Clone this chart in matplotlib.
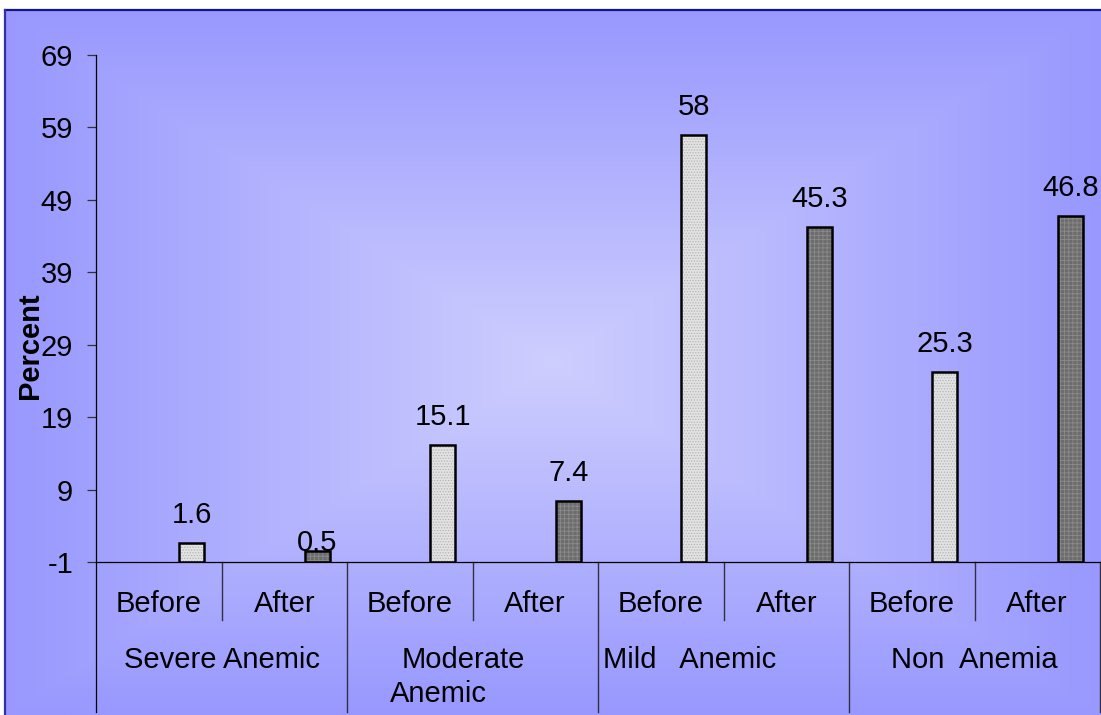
import numpy as np
import matplotlib.pyplot as plt
from matplotlib.lines import Line2D
from matplotlib.transforms import blended_transform_factory

plt.rcParams['font.family'] = ['Liberation Sans', 'DejaVu Sans']
plt.rcParams['hatch.linewidth'] = 0.6

# anemia status of the sample, before and after the intervention (%)
groups = ['Severe Anemic', 'Moderate Anemic', 'Mild Anemic', 'Non Anemia']
phases = ['Before', 'After']
before_vals = [1.6, 15.1, 58, 25.3]
after_vals = [0.5, 7.4, 45.3, 46.8]
y_ticks = [-1, 9, 19, 29, 39, 49, 59, 69]

FS = 21
W, H = 1101, 715
fig = plt.figure(figsize=(W / 100, H / 100), dpi=100, facecolor='white')

# rectangular "from centre" gradient behind everything
bg = fig.add_axes([5 / W, 0, 1 - 5 / W, 1 - 10 / H], zorder=-5)
ny, nx = 400, 600
gx = np.abs(np.linspace(-1, 1, nx))[None, :]
gy = np.abs(np.linspace(-1, 1, ny))[:, None]
t = np.maximum(gx, gy)
centre = np.array([206, 206, 255]) / 255
edge = np.array([152, 152, 254]) / 255
img = centre[None, None, :] + (edge - centre)[None, None, :] * t[:, :, None]
bg.imshow(img, aspect='auto', interpolation='bilinear')
bg.axis('off')

# frame line along the top and left
fig.add_artist(Line2D([5 / W, 1], [1 - 10 / H, 1 - 10 / H], color='#14148c', lw=1.6))
fig.add_artist(Line2D([5 / W, 5 / W], [0, 1 - 10 / H], color='#3030a8', lw=1.6))

ax = fig.add_axes([96 / W, 1 - 562 / H, 1004 / W, (562 - 55) / H])
ax.patch.set_alpha(0)

vals = []
for b, a in zip(before_vals, after_vals):
    vals += [b, a]
slots = np.arange(len(vals))
xpos = slots + 0.763
base = y_ticks[0]
# the tiny 0.5 bar gets its label sitting right on top of it
label_gap = [14.4, 0, 14.4, 14.4, 14.4, 14.4, 14.4, 14.4]

for i, (x, v) in enumerate(zip(xpos, vals)):
    if i % 2 == 0:
        face, hcol, hatch = '#e2e2e2', '#b4b4b4', '......'
    else:
        face, hcol, hatch = '#6c6c6c', '#8a8a8a', '++++'
    ax.bar(x, v - base, bottom=base, width=0.2, color=face, edgecolor=hcol,
           hatch=hatch, linewidth=0, zorder=2)
    ax.bar(x, v - base, bottom=base, width=0.2, fill=False, edgecolor='black',
           linewidth=1.8, zorder=3)
    ax.annotate(f'{v:g}', (x, v), xytext=(0, label_gap[i]), textcoords='offset points',
                ha='center', va='baseline', fontsize=FS, color='black', zorder=4)

ax.set_xlim(0, 8)
ax.set_ylim(base, y_ticks[-1])
ax.set_yticks(y_ticks)
ax.set_yticklabels([str(v) for v in y_ticks])
ax.tick_params(axis='y', direction='out', length=6.5, width=0.9, pad=10,
               labelsize=FS, color='#333333')
ax.set_xticks([])
for s in ['top', 'right', 'left']:
    ax.spines[s].set_visible(False)
ax.spines['bottom'].set_linewidth(0.9)

# category axis drawn as a two-level table under the plot
tr = blended_transform_factory(ax.transData, fig.transFigure)
y_axis = 1 - 562 / H
y_inner = 1 - 620 / H
ax.add_line(Line2D([0, 0], [1 - 55 / H, 0.004], transform=tr, color='black',
                   lw=0.9, clip_on=False))
for k in range(1, 9):
    bottom = y_inner if k % 2 == 1 else 0.004
    ax.add_line(Line2D([k, k], [y_axis, bottom], transform=tr, color='#303040',
                       lw=1.0, clip_on=False))

for i in slots:
    ax.text(i + 0.5, 1 - 612 / H, phases[i % 2], transform=tr, ha='center',
            va='baseline', fontsize=FS)

row1 = 1 - 668 / H
row2 = 1 - 702 / H
ax.text(1.0, row1, groups[0], transform=tr, ha='center', va='baseline', fontsize=FS)
ax.text(2.928, row1, 'Moderate', transform=tr, ha='center', va='baseline', fontsize=FS)
ax.text(2.343, row2, 'Anemic', transform=tr, ha='left', va='baseline', fontsize=FS)
ax.text(4.042, row1, 'Mild   Anemic', transform=tr, ha='left', va='baseline', fontsize=FS)
ax.text(7.0, row1, 'Non  Anemia', transform=tr, ha='center', va='baseline', fontsize=FS)

fig.text(30 / W, 1 - 346 / H, 'Percent', rotation=90, ha='center', va='center',
         fontsize=FS, fontweight='bold')

fig.savefig('out.png', dpi=100)
